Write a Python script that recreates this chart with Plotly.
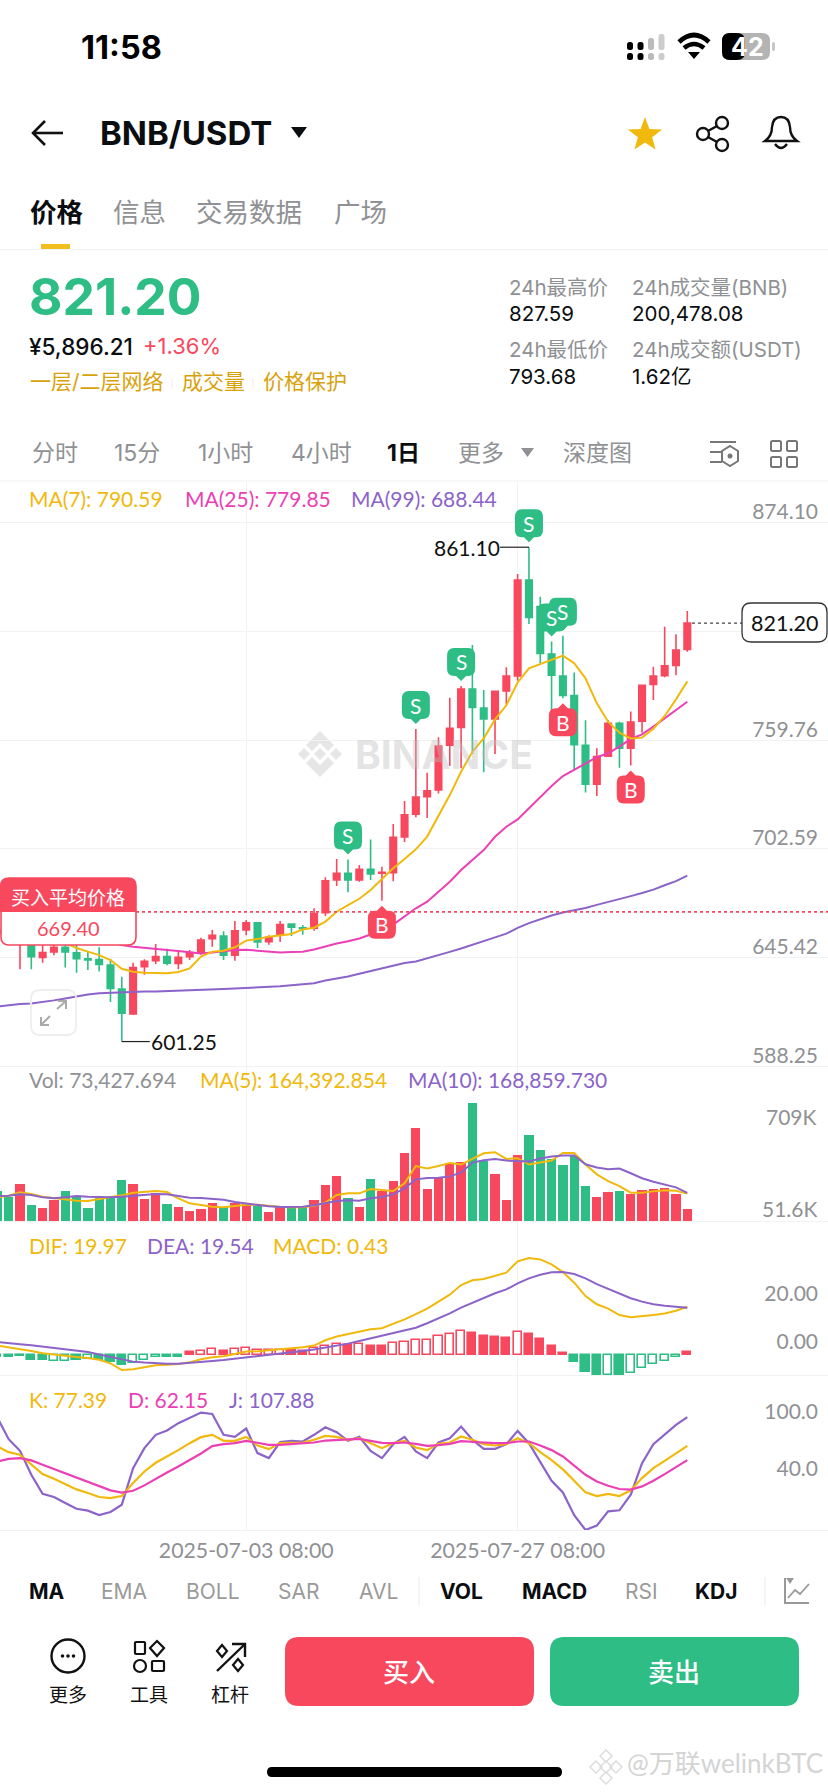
import math
import pandas as pd
import plotly.graph_objects as go
from plotly.subplots import make_subplots

W, H = 828, 1792
RED = "#F8485E"
GREEN = "#2EBD85"
YELLOW = "#F0B90B"
PINK = "#EB40B5"
PURPLE = "#8B63C9"
GREY = "#8F9194"
GRID = "#F1F2F3"
FONT = "Inter, 'Noto Sans CJK SC', sans-serif"
NUM_FONT = "Lato, 'Noto Sans CJK SC', sans-serif"

# daily candles
dates = pd.date_range("2025-06-11 08:00", periods=62).strftime("%Y-%m-%d %H:%M").tolist()

open_ = [680, 672, 662, 656, 645.5, 648.3, 650.8, 647.9, 644.8, 644.4,
         641.5, 628.8, 615.7, 640.6, 643.7, 645.9, 642.3, 645.9, 648.1, 655.3,
         656.7, 646.6, 659.9, 663.7, 653.7, 657.4, 663.0, 661.1, 660.8, 669.0,
         686.2, 689.7, 686.2, 691.8, 689.7, 690.0, 708.8, 720.7, 730.0, 733.5,
         757.0, 766.4, 786.6, 776.6, 770.8, 785.5, 793.4, 843.9, 829.9, 805.0,
         793.4, 783.1, 757.0, 736.5, 751.3, 768.5, 755.4, 769.7, 788.9, 793.6,
         799.0, 807.4]
high = [684, 680, 682, 666, 655, 653.5, 656, 655, 648.3, 650.8,
        644.8, 635.3, 642.7, 644.5, 652.5, 650.1, 648.3, 649.4, 655.8, 659.9,
        659.2, 664.6, 665.1, 664.1, 657.1, 664.6, 663.4, 662.5, 671.3, 687.6,
        697.2, 697.0, 694.1, 707.5, 693.2, 715.6, 727.7, 765.5, 742.6, 761.2,
        782.0, 788.2, 809.7, 786.0, 785.7, 798.0, 847.0, 861.10, 835.1, 811.5,
        814.6, 795.3, 770.1, 755.4, 770.3, 769.4, 774.7, 788.5, 798.3, 819.3,
        815.3, 827.59]
low = [664, 658, 639.2, 639.2, 642.7, 646.6, 640.2, 637.4, 638.8, 638.1,
       622.0, 601.25, 615.2, 636.4, 642.0, 641.3, 639.2, 644.1, 646.9, 651.1,
       644.1, 643.7, 657.1, 650.4, 652.2, 653.6, 656.7, 657.4, 659.5, 667.2,
       683.0, 679.7, 685.3, 686.2, 675.3, 685.5, 706.2, 719.1, 718.8, 731.7,
       746.1, 744.9, 752.4, 742.8, 752.4, 778.3, 790.9, 820.7, 800.1, 774.7,
       781.7, 744.3, 732.2, 730.3, 751.0, 745.2, 746.3, 763.6, 780.8, 792.7,
       793.8, 806.2]
close = [670, 664, 672, 645.9, 648.1, 650.8, 648.3, 644.8, 644.1, 641.8,
         629.2, 616.1, 640.2, 643.4, 645.9, 642.5, 645.5, 648.1, 654.6, 657.1,
         646.6, 659.5, 663.7, 653.6, 656.0, 662.8, 661.3, 660.6, 668.6, 685.8,
         689.7, 686.2, 691.8, 689.3, 690.2, 708.6, 720.5, 729.8, 733.1, 756.6,
         765.9, 786.6, 776.9, 770.8, 785.3, 793.4, 843.9, 824.2, 805.3, 793.8,
         783.2, 757.3, 736.5, 751.0, 768.5, 755.4, 769.2, 788.5, 793.4, 798.7,
         807.1, 821.20]

ma7 = [660, 659, 658, 657, 656, 655, 653.2, 650.4, 648.5, 646.7,
       644.1, 639.5, 638.0, 637.4, 637.3, 637.1, 637.8, 639.7, 645.9, 648.5,
       649.0, 650.8, 654.3, 655.1, 656.4, 657.0, 657.8, 660.2, 661.1, 664.3,
       669.5, 673.0, 676.3, 680.9, 686.5, 692.3, 697.2, 702.3, 709.0, 719.5,
       730.8, 743.1, 753.6, 760.6, 770.6, 778, 790, 797.4, 799.7, 802.2,
       804.1, 800.1, 792.2, 779.0, 769.4, 763.6, 760.6, 761.0, 765.7, 772.4,
       781.1, 790.59]
ma25 = [659, 658.5, 658, 657.5, 657, 656.5, 656, 655.5, 655, 654.5,
        653.5, 652, 651.1, 650.4, 649.9, 649.4, 648.8, 648.3, 647.6, 648.1,
        648.8, 649.4, 649.5, 649.0, 648.5, 648.1, 648.3, 648.5, 649.6, 651.4,
        652.8, 654, 655.4, 657.5, 659, 662.7, 667, 671.3, 674.8, 680.0,
        685.3, 691.4, 696.7, 701.9, 708.9, 714.2, 718, 723.8, 730, 735.6,
        740.8, 744, 747.5, 750.7, 752.8, 756.3, 760.3, 762.7, 766.8, 771.1,
        775.5, 779.85]
ma99 = [619.7, 620.4, 621, 621.3, 622, 622.9, 623.9, 625, 626, 626.6,
        626.9, 627.1, 627.3, 627.5, 627.6, 627.8, 627.9, 628, 628.3, 628.5,
        628.9, 629.2, 629.4, 629.6, 629.9, 630.3, 630.8, 631.5, 631.9, 633.3,
        634.3, 635.5, 636.9, 638.3, 639.7, 641.3, 642.5, 643.3, 644.9, 646.5,
        648.4, 650.2, 652, 654, 656, 658, 661, 663.5, 665.7, 667.5,
        669.1, 670.3, 671.5, 673.1, 674.5, 676.1, 677.7, 679.3, 681.1, 683.4,
        685.6, 688.44]

# volume in thousands
volume = [178, 146, 224, 94, 80, 124, 182, 146, 80, 136,
          142, 244, 220, 132, 168, 102, 82, 58, 74, 110,
          82, 110, 100, 92, 52, 84, 84, 84, 124, 214,
          268, 136, 86, 254, 182, 238, 411, 557, 190, 260,
          341, 357, 709, 361, 284, 128, 397, 517, 427, 373,
          335, 393, 208, 142, 172, 178, 164, 186, 194, 200,
          164, 73.4]
vol_ma5 = [142, 152, 172, 162, 146, 138, 130, 122, 120, 130,
           142, 154, 170, 176, 180, 174, 136, 106, 96, 86,
           82, 90, 98, 98, 90, 86, 82, 82, 92, 110,
           156, 166, 166, 192, 186, 180, 226, 330, 316, 330,
           349, 339, 373, 407, 413, 373, 377, 339, 351, 363,
           409, 409, 339, 280, 240, 210, 170, 170, 178, 184,
           182, 164.4]
vol_ma10 = [150, 152, 160, 156, 142, 136, 142, 150, 146, 144,
            142, 146, 150, 156, 162, 160, 150, 140, 138, 134,
            128, 114, 104, 98, 88, 84, 84, 86, 94, 106,
            120, 124, 122, 136, 144, 160, 196, 250, 258, 260,
            268, 290, 351, 365, 373, 363, 361, 357, 375, 387,
            393, 393, 341, 321, 311, 315, 287, 257, 236, 220,
            202, 168.9]

dif = [3.8, 3.1, 2.5, 1.5, 0.6, 0, -0.6, -1.0, -1.4, -2.1,
       -3.6, -6.4, -6.1, -5.3, -4.4, -4.2, -3.9, -3.2, -1.9, -1.1,
       -0.7, 0.3, 1.3, 1.4, 1.8, 2.4, 2.8, 3.1, 3.8, 6.0,
       7.6, 8.6, 9.9, 10.6, 11.0, 12.8, 14.7, 16.9, 19.2, 22.1,
       25.0, 29.0, 31.0, 31.5, 32.8, 34.2, 38.9, 40.3, 39.7, 37.6,
       34.4, 30.0, 24.4, 21.0, 19.2, 16.5, 15.6, 16.0, 16.5, 17.2,
       18.3, 19.97]
dea = [5.3, 4.7, 4.3, 3.9, 3.3, 2.8, 2.2, 1.7, 1.1, 0.1,
       -0.8, -1.9, -2.9, -3.3, -3.6, -3.8, -3.8, -3.5, -3.1, -2.6,
       -2.2, -1.7, -1.1, -0.6, -0.1, 0.4, 0.8, 1.5, 2.2, 2.9,
       3.6, 4.6, 5.7, 6.8, 7.8, 9.0, 10.3, 11.2, 13.1, 15.1,
       17.2, 19.6, 21.7, 23.8, 25.6, 27.2, 29.7, 31.8, 33.3, 34.3,
       34.4, 33.6, 31.8, 29.4, 27.4, 25.3, 23.5, 22.1, 21.0, 20.4,
       20.0, 19.54]
macd_hist = [-1.0, -1.0, -0.7, -2.2, -2.4, -2.6, -2.5, -2.1, -1.8, -2.1,
             -2.9, -4.3, -3.5, -2.4, -1.0, -1.0, -1.0, 1.1, 1.4, 2.2,
             1.4, 2.2, 2.8, 2.1, 1.8, 2.1, 1.9, 1.5, 2.6, 3.5,
             4.4, 4.2, 4.6, 3.8, 3.5, 4.9, 5.3, 6.1, 6.1, 7.8,
             8.8, 10.0, 9.2, 7.9, 7.4, 7.1, 9.4, 8.8, 6.5, 3.8,
             0.8, -3.2, -7.1, -8.3, -8.3, -8.3, -7.6, -5.6, -3.8, -2.6,
             -1.1, 1.2]
# 1 = drawn hollow in the app
macd_hollow = [0, 0, 0, 0, 0, 1, 1, 0, 1, 0,
               0, 0, 1, 1, 1, 0, 0, 0, 1, 1,
               0, 1, 1, 1, 1, 1, 0, 0, 1, 1,
               1, 0, 1, 0, 0, 1, 1, 1, 1, 1,
               1, 1, 0, 0, 0, 0, 1, 0, 0, 0,
               0, 0, 0, 0, 1, 0, 1, 1, 1, 1,
               1, 0]

kdj_k = [76.7, 70.6, 67.8, 57.2, 47.2, 42.3, 36.6, 30.9, 27, 22.8,
         21.7, 23.8, 37.7, 50, 59.3, 65.7, 72.8, 80.2, 86.6, 89.1,
         82.7, 82.7, 86.9, 77.7, 73.8, 80.2, 80.2, 80.9, 83.8, 88,
         86.9, 83.8, 85.5, 80.2, 74.9, 80.2, 82.7, 75.6, 72.8, 79.5,
         80.9, 87.3, 83.8, 79.1, 77.7, 79.1, 85.5, 80.2, 70.6, 62.1,
         52.2, 40.1, 27.7, 23.8, 26, 23.8, 29.9, 43, 53.6, 61.4,
         69.2, 77.39]
kdj_d = [60.7, 63.5, 64.2, 61.8, 57.2, 52.6, 47.9, 43, 38.4, 33.8,
         29.9, 27.4, 29.5, 35.2, 42.3, 49, 55.4, 62.1, 69.2, 77,
         79.1, 80.2, 82.7, 80.6, 78.4, 78.4, 79.1, 79.9, 80.9, 83,
         83.8, 83.8, 84.8, 82.7, 80.6, 80.2, 80.9, 79.5, 77.4, 78.1,
         79.5, 82.3, 82, 80.9, 80.2, 80.2, 82, 82, 77.7, 72.8,
         66, 56.4, 46.5, 39.4, 34.8, 31.3, 30.6, 34.1, 40.1, 47.2,
         54.7, 62.15]
kdj_j = [107.5, 84.5, 72, 46.5, 26.3, 22.8, 16.4, 10.3, 8.2, 3.6,
         6.8, 14.6, 53.6, 74.9, 89.1, 93.7, 101.5, 107.5, 112.8, 111.4,
         89.1, 86.9, 95.8, 69.6, 64.3, 81.3, 82.7, 82, 89.1, 97.2,
         91.9, 82.7, 86.9, 72, 64.3, 79.1, 86.9, 71.3, 64.3, 80.9,
         85.5, 97.9, 83.8, 74.2, 74.2, 79.1, 93.3, 80.2, 60, 40.1,
         27.7, 3.3, -12.3, -7.7, 7.5, 8.6, 25.2, 58.9, 79.1, 89.8,
         99.7, 107.88]

price_ticks = [874.10, 816.93, 759.76, 702.59, 645.42, 588.25]
macd_ticks = [20.00, 0.00]
kdj_ticks = [100.0, 40.0]
date_ticks = ["2025-07-03 08:00", "2025-07-27 08:00"]
sell_dates = ["2025-07-12 08:00", "2025-07-18 08:00", "2025-07-22 08:00",
              "2025-07-28 08:00", "2025-07-30 08:00", "2025-07-31 08:00"]
buy_dates = ["2025-07-15 08:00", "2025-07-31 08:00", "2025-08-06 08:00"]
avg_buy = 669.40
last_price = 821.20

up = [c >= o for o, c in zip(open_, close)]
vol_colors = [RED if u else GREEN for u in up]
hist_colors = [RED if v >= 0 else GREEN for v in macd_hist]
hist_fill = ["white" if h else c for h, c in zip(macd_hollow, hist_colors)]
DAY_MS = 86400000

fig = make_subplots(rows=4, cols=1, shared_xaxes=True, vertical_spacing=0)


def add_line(y, color, row, width=2):
    fig.add_trace(go.Scatter(x=dates, y=y, mode="lines", hoverinfo="skip",
                             line=dict(color=color, width=width)), row=row, col=1)


# price panel
fig.add_trace(go.Candlestick(
    x=dates, open=open_, high=high, low=low, close=close, whiskerwidth=0,
    increasing=dict(line=dict(color=RED, width=1.6), fillcolor=RED),
    decreasing=dict(line=dict(color=GREEN, width=1.6), fillcolor=GREEN),
), row=1, col=1)
add_line(ma99, PURPLE, 1)
add_line(ma25, PINK, 1)
add_line(ma7, YELLOW, 1)

# volume panel
fig.add_trace(go.Bar(x=dates, y=volume, width=0.82 * DAY_MS, marker=dict(color=vol_colors, line=dict(width=0))), row=2, col=1)
add_line(vol_ma5, YELLOW, 2)
add_line(vol_ma10, PURPLE, 2)

# macd panel
fig.add_trace(go.Bar(x=dates, y=macd_hist, width=0.72 * DAY_MS,
                     marker=dict(color=hist_fill, line=dict(color=hist_colors, width=1.6))), row=3, col=1)
add_line(dif, YELLOW, 3)
add_line(dea, PURPLE, 3)

# kdj panel
add_line(kdj_j, PURPLE, 4, 2.2)
add_line(kdj_k, YELLOW, 4, 2.2)
add_line(kdj_d, PINK, 4, 2.2)


def px(x):
    return x / W


def py(y):
    return 1 - y / H


def rrect_path(x0, y0, x1, y1, r):
    xa, xb, xc, xd = px(x0), px(x0 + r), px(x1 - r), px(x1)
    ya, yb, yc, yd = py(y0), py(y0 + r), py(y1 - r), py(y1)
    return (f"M{xb},{ya} L{xc},{ya} Q{xd},{ya} {xd},{yb} L{xd},{yc} Q{xd},{yd} {xc},{yd} "
            f"L{xb},{yd} Q{xa},{yd} {xa},{yc} L{xa},{yb} Q{xa},{ya} {xb},{ya} Z")


shapes = []
notes = []


def rrect(x0, y0, x1, y1, r, fill=None, line=None, lw=1.5, layer="above"):
    shapes.append(dict(type="path", xref="paper", yref="paper", path=rrect_path(x0, y0, x1, y1, r), layer=layer,
                       fillcolor=fill or "rgba(0,0,0,0)", line=dict(color=line or "rgba(0,0,0,0)", width=lw if line else 0)))


def poly(pts, fill=None, line=None, lw=2, closed=True, layer="above"):
    d = "M" + " L".join(f"{px(x)},{py(y)}" for x, y in pts) + (" Z" if closed else "")
    shapes.append(dict(type="path", xref="paper", yref="paper", path=d, layer=layer,
                       fillcolor=fill or "rgba(0,0,0,0)", line=dict(color=line or "rgba(0,0,0,0)", width=lw if line else 0)))


def arc(x0, y0, cx, cy, x1, y1, color, lw):
    shapes.append(dict(type="path", xref="paper", yref="paper", line=dict(color=color, width=lw),
                       path=f"M{px(x0)},{py(y0)} Q{px(cx)},{py(cy)} {px(x1)},{py(y1)}"))


def circle(cx, cy, r, fill=None, line=None, lw=2):
    shapes.append(dict(type="circle", xref="paper", yref="paper", x0=px(cx - r), x1=px(cx + r), y0=py(cy + r), y1=py(cy - r),
                       fillcolor=fill or "rgba(0,0,0,0)", line=dict(color=line or "rgba(0,0,0,0)", width=lw if line else 0)))


def seg(x0, y0, x1, y1, color, lw=2, dash="solid"):
    shapes.append(dict(type="line", xref="paper", yref="paper", x0=px(x0), x1=px(x1), y0=py(y0), y1=py(y1),
                       line=dict(color=color, width=lw, dash=dash)))


def txt(x, y, text, size, color, anchor="left", bold=False, font=FONT, weight=None):
    f = dict(size=size, color=color, family=font)
    if weight:
        f["weight"] = weight
    notes.append(dict(xref="paper", yref="paper", x=px(x), y=py(y), text=f"<b>{text}</b>" if bold else text,
                      showarrow=False, xanchor=anchor, yanchor="middle", borderpad=0, font=f))


# status bar
txt(80, 47, "11:58", 32.5, "#000", bold=True)
for i, (cx, c) in enumerate([(630, "#000"), (640.5, "#000"), (651, "#BBB"), (661.5, "#CCC")]):
    rrect(cx - 3, 53, cx + 3, 60, 2.5, fill=c)
    top = [42, 42, 38, 34][i]
    rrect(cx - 3, top, cx + 3, 50, 2.5, fill=c)
poly([(694, 59), (688, 52), (700, 52)], fill="#000")
arc(684, 48, 694, 40, 704, 48, "#000", 4.6)
arc(679, 42, 694, 28, 709, 42, "#000", 4.6)
rrect(722, 33, 770, 60, 8, fill="#B4B4B4")
rrect(722, 33, 745, 60, 8, fill="#000")
rrect(772, 42, 775, 51, 1.5, fill="#C8C8C8")
txt(747, 47, "42", 25, "#FFF", anchor="center", bold=True)

# header
seg(34, 133, 63, 133, "#111", 2.6)
poly([(45, 121), (33, 133), (45, 145)], line="#111", lw=2.6, closed=False)
txt(99, 133, "BNB/USDT", 33, "#0B0E11", bold=True)
poly([(291, 127), (307, 127), (299, 138)], fill="#0B0E11")
star = [(645 + (18 if i % 2 == 0 else 7.5) * math.sin(i * math.pi / 5),
         135 - (18 if i % 2 == 0 else 7.5) * math.cos(i * math.pi / 5)) for i in range(10)]
poly(star, fill=YELLOW)
circle(722, 123, 6, line="#111", lw=2.4)
circle(703, 134, 6, line="#111", lw=2.4)
circle(722, 145, 6, line="#111", lw=2.4)
seg(708, 131, 717, 126, "#111", 2.4)
seg(708, 137, 717, 142, "#111", 2.4)
shapes.append(dict(type="path", xref="paper", yref="paper", line=dict(color="#111", width=2.4),
                   path=f"M{px(765)},{py(141)} Q{px(772)},{py(136)} {px(772)},{py(127)} Q{px(773)},{py(117)} {px(781)},{py(117)} "
                        f"Q{px(789)},{py(117)} {px(790)},{py(127)} Q{px(790)},{py(136)} {px(797)},{py(141)} Z"))
arc(775, 144, 781, 152, 787, 144, "#111", 2.4)

# tabs
txt(29, 212, "<b>价格</b>", 26.5, "#0B0E11")
txt(112, 212, "信息", 26.5, GREY)
txt(195, 212, "交易数据", 26.5, GREY)
txt(333, 212, "广场", 26.5, GREY)
rrect(41, 244, 70, 249, 0, fill="#F0BE1E")
seg(0, 249.5, W, 249.5, GRID, 1.2)

# ticker block
txt(28, 296, "821.20", 51.5, GREEN, bold=True)
txt(28, 346, "¥5,896.21", 22.5, "#0B0E11", weight=500)
txt(142, 346, "+1.36%", 22, RED)
txt(29, 382, "一层/二层网络", 21, "#D9A20C")
txt(181, 382, "成交量", 21, "#D9A20C")
txt(262, 382, "价格保护", 21, "#D9A20C")
seg(172, 378, 172, 388, "#EEE", 1)
seg(253, 378, 253, 388, "#EEE", 1)
txt(508, 287, "24h最高价", 20.5, GREY)
txt(508, 313, "827.59", 20.5, "#0B0E11")
txt(508, 349, "24h最低价", 20.5, GREY)
txt(508, 376, "793.68", 20.5, "#0B0E11")
txt(631, 287, "24h成交量(BNB)", 20.5, GREY)
txt(631, 313, "200,478.08", 20.5, "#0B0E11")
txt(631, 349, "24h成交额(USDT)", 20.5, GREY)
txt(631, 376, "1.62亿", 20.5, "#0B0E11")

# timeframe row
for x, label in [(31, "分时"), (113, "15分"), (197, "1小时"), (290, "4小时"), (457, "更多"), (562, "深度图")]:
    txt(x, 453, label, 23, GREY)
txt(386, 453, "1日", 23, "#0B0E11", bold=True)
poly([(521, 448), (534, 448), (527.5, 457)], fill=GREY)
seg(710, 442, 736, 442, "#777", 2)
seg(710, 452, 722, 452, "#777", 2)
seg(710, 462, 722, 462, "#777", 2)
poly([(730, 446), (738, 451), (738, 461), (730, 466), (722, 461), (722, 451)], line="#777", lw=2)
circle(730, 456, 2.5, fill="#777")
for sx, sy in [(771, 441), (787, 441), (771, 457), (787, 457)]:
    rrect(sx, sy, sx + 10, sy + 10, 1.5, line="#777", lw=2)

# panel edges and legends
seg(0, 481, W, 481, GRID, 1.2)
for x, label, c in [(28, "MA(7): 790.59", YELLOW), (184, "MA(25): 779.85", PINK), (350, "MA(99): 688.44", PURPLE)]:
    txt(x, 499, label, 21, c, font=NUM_FONT)
for x, label, c in [(28, "Vol: 73,427.694", GREY), (199, "MA(5): 164,392.854", YELLOW), (407, "MA(10): 168,859.730", PURPLE)]:
    txt(x, 1079, label, 21, c, font=NUM_FONT)
for x, label, c in [(28, "DIF: 19.97", YELLOW), (146, "DEA: 19.54", PURPLE), (272, "MACD: 0.43", YELLOW)]:
    txt(x, 1245, label, 21, c, font=NUM_FONT)
for x, label, c in [(28, "K: 77.39", YELLOW), (127, "D: 62.15", PINK), (228, "J: 107.88", PURPLE)]:
    txt(x, 1399, label, 21, c, font=NUM_FONT)
txt(818, 1116, "709K", 21, GREY, anchor="right", font=NUM_FONT)
txt(818, 1208, "51.6K", 21, GREY, anchor="right", font=NUM_FONT)

# watermark behind the candles
wm = [(0, -23), (14, -9), (8, -3), (0, -11), (-8, -3), (-14, -9)]
poly([(320 + a, 754 + b) for a, b in wm], fill="#E6E6E6", layer="below")
poly([(320 + a, 754 - b) for a, b in wm], fill="#E6E6E6", layer="below")
for dx in (-16, 0, 16):
    poly([(320 + dx - 6, 754), (320 + dx, 748), (320 + dx + 6, 754), (320 + dx, 760)], fill="#E6E6E6", layer="below")
notes.append(dict(xref="paper", yref="paper", x=px(353), y=py(754), text="<b>BINANCE</b>", showarrow=False, xanchor="left",
                  yanchor="middle", font=dict(size=39, color="rgba(190,190,190,0.42)", family=FONT)))

# buy/sell tags hang off the candle wick
price_at = dict(zip(dates, zip(high, low)))


def add_tag(date, letter):
    sign = 1 if letter == "S" else -1
    color = GREEN if letter == "S" else RED
    a, b, c, t = 10 * sign, 17 * sign, 30 * sign, 38 * sign
    path = (f"M0,{5 * sign} L5,{a} L7,{a} Q14,{a} 14,{b} L14,{c} Q14,{t} 7,{t} L-7,{t} "
            f"Q-14,{t} -14,{c} L-14,{b} Q-14,{a} -7,{a} L-5,{a} Z")
    y = price_at[date][0] if letter == "S" else price_at[date][1]
    shapes.append(dict(type="path", xref="x", yref="y", xsizemode="pixel", ysizemode="pixel", xanchor=date, yanchor=y,
                       path=path, fillcolor=color, line=dict(width=0), layer="above"))
    notes.append(dict(xref="x", yref="y", x=date, y=y, text=letter, showarrow=False, yshift=24 * sign,
                      font=dict(size=21, color="white", family=NUM_FONT)))


for d in sell_dates:
    add_tag(d, "S")
for d in buy_dates:
    add_tag(d, "B")

# extreme labels
shapes.append(dict(type="line", xref="x", yref="y", xsizemode="pixel", xanchor="2025-07-28 08:00", x0=-29, x1=0,
                   y0=max(high), y1=max(high), line=dict(color="#222", width=1.2)))
notes.append(dict(xref="x", yref="y", x="2025-07-28 08:00", y=max(high), text="861.10", showarrow=False, xanchor="right", xshift=-27,
                  font=dict(size=21, color="#111", family=NUM_FONT)))
shapes.append(dict(type="line", xref="x", yref="y", xsizemode="pixel", xanchor="2025-06-22 08:00", x0=0, x1=28,
                   y0=min(low), y1=min(low), line=dict(color="#222", width=1.2)))
notes.append(dict(xref="x", yref="y", x="2025-06-22 08:00", y=min(low), text="601.25", showarrow=False, xanchor="left", xshift=27,
                  font=dict(size=21, color="#111", family=NUM_FONT)))

# average buy line and label
shapes.append(dict(type="line", xref="paper", yref="y", x0=px(136), x1=1, y0=avg_buy, y1=avg_buy,
                   line=dict(color=RED, width=1.6, dash="3px,3px")))
rrect(1, 878, 136, 945, 8, fill="white", line=RED, lw=1.6)
shapes.append(dict(type="path", xref="paper", yref="paper", line=dict(width=0), fillcolor=RED,
                   path=f"M{px(0)},{py(912)} L{px(0)},{py(886)} Q{px(0)},{py(878)} {px(8)},{py(878)} L{px(128)},{py(878)} "
                        f"Q{px(136)},{py(878)} {px(136)},{py(886)} L{px(136)},{py(912)} Z"))
txt(68, 898, "买入平均价格", 19, "white", anchor="center")
txt(68, 928, "669.40", 20, RED, anchor="center", font=NUM_FONT)

# last price label
shapes.append(dict(type="line", xref="paper", yref="y", x0=px(692), x1=px(742), y0=last_price, y1=last_price,
                   line=dict(color="#444", width=1.2, dash="3px,3px")))
rrect(742, 603, 827, 642, 9, fill="white", line="#333", lw=1.3)
txt(784.5, 623, "821.20", 21.5, "#111", anchor="center", font=NUM_FONT)

# expand button
rrect(31, 990, 76, 1035, 9, line="#EEE", lw=1.8)
seg(41, 1025, 50, 1016, "#AAA", 2)
seg(57, 1009, 66, 1001, "#AAA", 2)
poly([(41, 1017), (41, 1025), (49, 1025)], line="#AAA", lw=2, closed=False)
poly([(58, 1001), (66, 1001), (66, 1009)], line="#AAA", lw=2, closed=False)

# indicator row
for x, label, strong in [(28, "MA", True), (100, "EMA", False), (185, "BOLL", False), (277, "SAR", False), (358, "AVL", False),
                         (439, "VOL", True), (521, "MACD", True), (624, "RSI", False), (694, "KDJ", True)]:
    txt(x, 1591, label, 21, "#0B0E11" if strong else "#9A9A9A", bold=strong)
seg(419, 1577, 419, 1605, "#EEE", 1.2)
seg(765, 1577, 765, 1605, "#EEE", 1.2)
poly([(785, 1578), (785, 1603), (809, 1603)], line="#999", lw=2, closed=False)
poly([(788, 1598), (795, 1590), (800, 1594), (809, 1584)], line="#999", lw=1.8, closed=False)
poly([(786, 1578), (794, 1578), (790, 1584)], fill="#999")

# bottom bar
circle(68, 1656, 16.5, line="#111", lw=2.4)
for dx in (-5.5, 0, 5.5):
    circle(68 + dx, 1656, 1.8, fill="#111")
txt(68, 1695, "更多", 19, "#111", anchor="center")
rrect(135, 1642, 145, 1654, 1, line="#111", lw=2.2)
poly([(157, 1641), (164, 1648), (157, 1656), (150, 1648)], line="#111", lw=2.2)
circle(140, 1666, 6, line="#111", lw=2.2)
rrect(152, 1661, 164, 1671, 1, line="#111", lw=2.2)
txt(149, 1695, "工具", 19, "#111", anchor="center")
seg(217, 1671, 244, 1645, "#111", 2.4)
poly([(232, 1644), (245, 1644), (245, 1657)], line="#111", lw=2.4, closed=False)
poly([(222, 1645), (227, 1651), (222, 1657), (217, 1651)], line="#111", lw=2.2)
poly([(238, 1659), (243, 1665), (238, 1671), (233, 1665)], line="#111", lw=2.2)
txt(230, 1695, "杠杆", 19, "#111", anchor="center")
rrect(285, 1637, 534, 1706, 14, fill=RED)
txt(409, 1672, "买入", 26, "white", anchor="center", weight=500)
rrect(550, 1637, 799, 1706, 14, fill=GREEN)
txt(674, 1672, "卖出", 26, "white", anchor="center", weight=500)
rrect(267, 1767, 562, 1777, 5, fill="#000")

# screenshot credit
for a, b in [(606, 1756), (606, 1778), (596, 1767), (616, 1767), (606, 1767)]:
    poly([(a - 6, b), (a, b - 6), (a + 6, b), (a, b + 6)], line="#DDD", lw=1.5)
txt(626, 1763, "@万联welinkBTC", 26, "#D4D4D4", font=NUM_FONT)

fig.update_layout(
    width=W, height=H, margin=dict(l=0, r=0, t=0, b=0), showlegend=False,
    paper_bgcolor="white", plot_bgcolor="rgba(0,0,0,0)", boxgap=0.18, bargap=0,
    shapes=shapes, annotations=notes, font=dict(family=FONT),
)
fig.update_xaxes(type="date", range=["2025-06-11 13:34", "2025-08-23 18:34"], rangeslider_visible=False,
                 tickvals=date_ticks, showgrid=True, gridcolor=GRID, gridwidth=1.2, zeroline=False,
                 showline=True, linecolor=GRID, linewidth=1.2, ticks="", showticklabels=False)
# the price panel runs a few px past 588.25 so the lowest label is not dropped; its grid line is the panel edge
fig.update_xaxes(row=1, col=1, showline=False)
fig.update_xaxes(row=4, col=1, showticklabels=True, ticktext=[d for d in date_ticks],
                 tickfont=dict(size=21.3, color=GREY, family=NUM_FONT), ticklabelstandoff=1)
tick_style = dict(side="right", ticklabelposition="inside top", ticks="", zeroline=False, showline=False,
                  ticklabelstandoff=7, tickfont=dict(size=21, color=GREY, family=NUM_FONT))
fig.update_yaxes(row=1, col=1, domain=[py(1072), py(481)], range=[585.25, 895.9], tickvals=price_ticks,
                 ticklabelshift=4, ticktext=[f"{v:.2f}" for v in price_ticks], showgrid=True, gridcolor=GRID, gridwidth=1.2, **tick_style)
fig.update_yaxes(row=2, col=1, domain=[py(1221), py(1066)], range=[0, 931], showgrid=False, showticklabels=False, zeroline=False)
fig.update_yaxes(row=3, col=1, domain=[py(1375), py(1221)], range=[-8.47, 55.7], tickvals=macd_ticks, ticklabelshift=2,
                 ticktext=[f"{v:.2f}" for v in macd_ticks], showgrid=False, **tick_style)
fig.update_yaxes(row=4, col=1, domain=[py(1530), py(1375)], range=[-12.4, 152.9], tickvals=kdj_ticks, ticklabelshift=2,
                 ticktext=[f"{v:.1f}" for v in kdj_ticks], showgrid=False, **tick_style)

fig.write_html("out.html", config={"displayModeBar": False}, post_script="document.body.style.margin='0';")
